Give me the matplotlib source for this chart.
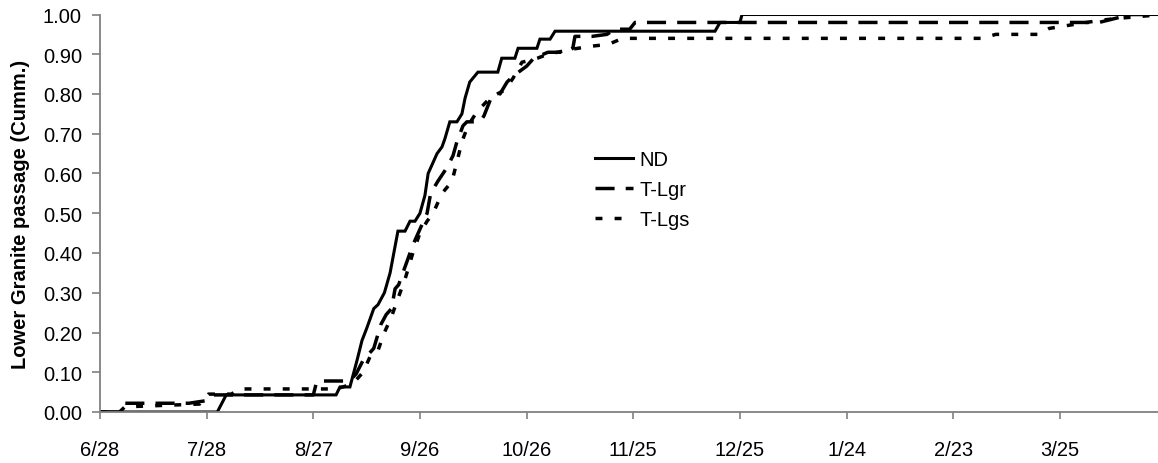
import numpy as np
import matplotlib
matplotlib.use("Agg")
import matplotlib.pyplot as plt

plt.rcParams['font.family'] = ['Liberation Sans', 'DejaVu Sans']

# days counted from 6/28
tick_days = [0, 30, 60, 90, 120, 150, 180, 210, 240, 270]
tick_labels = ['6/28', '7/28', '8/27', '9/26', '10/26', '11/25', '12/25', '1/24', '2/23', '3/25']

nd_day = [0, 33, 35.5, 66.4, 67.5, 70.3, 72.3, 73.7, 75, 77, 78.2, 80, 81.6, 83.8, 85.8,
          87.2, 88.6, 90, 91.4, 92.3, 94.8, 96.2, 97, 98.4, 100.4, 101.8, 102.7, 104,
          106.3, 111.9, 113, 116.7, 117.6, 122.9, 123.75, 126.6, 128, 173, 174.4, 180,
          180.6, 297.6]
nd_val = [0, 0, 0.043, 0.043, 0.063, 0.063, 0.13, 0.18, 0.21, 0.26, 0.27, 0.30, 0.35,
          0.455, 0.455, 0.48, 0.48, 0.50, 0.545, 0.60, 0.65, 0.667, 0.687, 0.73, 0.73,
          0.75, 0.79, 0.83, 0.855, 0.855, 0.89, 0.89, 0.915, 0.915, 0.938, 0.938, 0.958,
          0.958, 0.98, 0.98, 1.0, 1.0]

lgr_day = [0, 5.5, 7, 25, 29.5, 32, 60, 61, 70, 72, 74, 75.5, 77, 79, 80.5, 82, 83, 84,
           86, 88, 90.5, 92, 93, 95, 97.6, 99.3, 100.4, 102.1, 103.2, 106.9, 108, 110,
           112.5, 114.5, 116.2, 120, 122, 126, 131, 133, 133.6, 138.4, 142.6, 144.8,
           149, 150.5, 281, 285.5, 290, 297.6]
lgr_val = [0, 0, 0.022, 0.022, 0.028, 0.043, 0.043, 0.078, 0.078, 0.095, 0.13, 0.145,
           0.16, 0.22, 0.245, 0.26, 0.31, 0.32, 0.37, 0.42, 0.47, 0.50, 0.55, 0.58,
           0.615, 0.645, 0.68, 0.72, 0.73, 0.73, 0.745, 0.79, 0.80, 0.83, 0.845, 0.87,
           0.89, 0.905, 0.905, 0.915, 0.945, 0.945, 0.95, 0.963, 0.963, 0.98, 0.98,
           0.99, 1.0, 1.0]

lgs_day = [0, 5.5, 7, 28, 30.5, 37, 39, 66.5, 69, 72, 74, 76, 78, 80, 82, 84, 86, 88,
           90, 92, 93.7, 96.2, 99, 100.7, 101.8, 103.5, 106, 109.7, 111.7, 113.9, 116.2,
           118.7, 121, 123, 126, 133, 138, 143, 147, 248, 252, 264, 267, 274, 281, 286,
           295, 297.6]
lgs_val = [0, 0, 0.013, 0.02, 0.045, 0.045, 0.058, 0.058, 0.065, 0.08, 0.10, 0.14, 0.15,
           0.20, 0.24, 0.29, 0.34, 0.40, 0.45, 0.48, 0.50, 0.55, 0.58, 0.64, 0.68, 0.72,
           0.755, 0.79, 0.80, 0.81, 0.84, 0.88, 0.885, 0.89, 0.90, 0.913, 0.92, 0.925,
           0.94, 0.94, 0.95, 0.95, 0.965, 0.975, 0.985, 0.99, 0.997, 0.997]

fig = plt.figure(figsize=(11.58, 4.64), dpi=100)
ax = fig.add_axes([100 / 1158, 1 - 413 / 464, 1058 / 1158, 397.5 / 464])

ax.plot(nd_day, nd_val, color='black', lw=2.2, label='ND', solid_joinstyle='miter')
ax.plot(lgr_day, lgr_val, color='black', lw=2.5, dashes=(5.5, 3.2), label='T-Lgr')
ax.plot(lgs_day, lgs_val, color='black', lw=2.5, dashes=(2.0, 3.5), label='T-Lgs')

ax.set_xlim(0, 297.6)
ax.set_ylim(0, 1.0)
ax.set_xticks(tick_days)
ax.set_xticklabels(tick_labels)
ax.set_yticks(np.arange(0, 1.01, 0.1))
ax.set_yticklabels(['%.2f' % v for v in np.arange(0, 1.01, 0.1)])

for s in ['top', 'right']:
    ax.spines[s].set_visible(False)
for s in ['left', 'bottom']:
    ax.spines[s].set_color('#808080')
    ax.spines[s].set_linewidth(1.3)
ax.tick_params(axis='both', colors='#808080', labelcolor='black', labelsize=14.5,
               width=1.2, direction='out')
ax.tick_params(axis='x', length=5, pad=15)
ax.tick_params(axis='y', length=6, pad=7)

ax.set_ylabel('Lower Granite passage (Cumm.)', fontsize=14.5, fontweight='bold', labelpad=9)

leg = ax.legend(loc='upper left', bbox_to_anchor=(0.468, 0.66), frameon=False,
                fontsize=14.5, handlelength=1.9, handletextpad=0.3, labelspacing=0.55,
                borderpad=0, borderaxespad=0)

fig.savefig('out.png', dpi=100)
